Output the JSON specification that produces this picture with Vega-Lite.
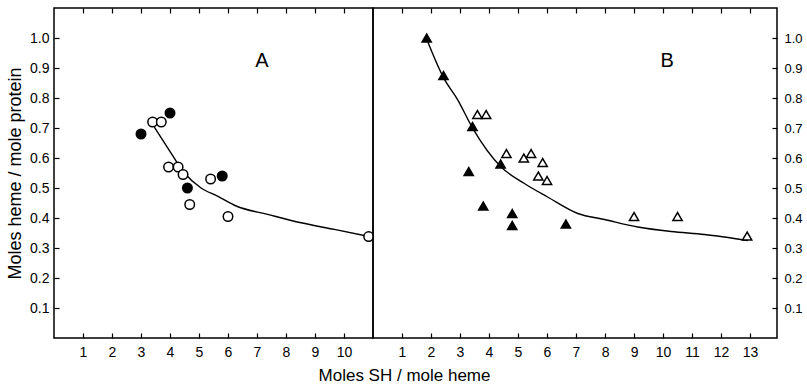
{
  "$schema": "https://vega.github.io/schema/vega-lite/v6.json",
  "background": "white",
  "padding": {"left": 5, "top": 6, "right": 5, "bottom": 0},
  "bounds": "flush",
  "spacing": 0,
  "config": {
    "view": {"stroke": "black", "strokeWidth": 1.5},
    "font": "Liberation Sans",
    "axis": {"grid": false, "domain": false, "tickColor": "black", "tickSize": -5, "tickWidth": 1.2, "labelColor": "black", "labelFont": "Liberation Sans", "labelFontSize": 14, "labelPadding": 10, "labelOverlap": false, "titleColor": "black", "titleFont": "Liberation Sans", "titleFontSize": 18, "titleFontWeight": "normal", "titlePadding": 5}
  },
  "datasets": {
    "pointsA": [
      {"x": 3.0, "y": 0.68, "type": "filled"},
      {"x": 4.0, "y": 0.75, "type": "filled"},
      {"x": 4.6, "y": 0.50, "type": "filled"},
      {"x": 5.8, "y": 0.54, "type": "filled"},
      {"x": 3.4, "y": 0.72, "type": "open"},
      {"x": 3.7, "y": 0.72, "type": "open"},
      {"x": 3.95, "y": 0.57, "type": "open"},
      {"x": 4.28, "y": 0.57, "type": "open"},
      {"x": 4.45, "y": 0.545, "type": "open"},
      {"x": 4.68, "y": 0.445, "type": "open"},
      {"x": 5.4, "y": 0.53, "type": "open"},
      {"x": 6.0, "y": 0.405, "type": "open"},
      {"x": 10.85, "y": 0.338, "type": "open"}
    ],
    "curveA": [
      {"x": 3.46, "y": 0.703},
      {"x": 3.92, "y": 0.634},
      {"x": 4.49, "y": 0.551},
      {"x": 5.07, "y": 0.50},
      {"x": 5.64, "y": 0.473},
      {"x": 6.28, "y": 0.44},
      {"x": 7.37, "y": 0.412},
      {"x": 8.52, "y": 0.384},
      {"x": 9.67, "y": 0.362},
      {"x": 10.82, "y": 0.339}
    ],
    "pointsB": [
      {"x": 1.85, "y": 1.0, "type": "filled"},
      {"x": 2.43, "y": 0.875, "type": "filled"},
      {"x": 3.43, "y": 0.705, "type": "filled"},
      {"x": 4.4, "y": 0.58, "type": "filled"},
      {"x": 3.3, "y": 0.555, "type": "filled"},
      {"x": 3.8, "y": 0.44, "type": "filled"},
      {"x": 4.8, "y": 0.415, "type": "filled"},
      {"x": 4.8, "y": 0.375, "type": "filled"},
      {"x": 6.65, "y": 0.38, "type": "filled"},
      {"x": 3.6, "y": 0.745, "type": "open"},
      {"x": 3.9, "y": 0.745, "type": "open"},
      {"x": 4.6, "y": 0.615, "type": "open"},
      {"x": 5.2, "y": 0.6, "type": "open"},
      {"x": 5.45, "y": 0.615, "type": "open"},
      {"x": 5.85, "y": 0.585, "type": "open"},
      {"x": 5.7, "y": 0.54, "type": "open"},
      {"x": 6.0, "y": 0.525, "type": "open"},
      {"x": 9.0, "y": 0.405, "type": "open"},
      {"x": 10.5, "y": 0.405, "type": "open"},
      {"x": 12.9, "y": 0.34, "type": "open"}
    ],
    "curveB": [
      {"x": 1.86, "y": 0.994},
      {"x": 2.44, "y": 0.866},
      {"x": 2.92, "y": 0.794},
      {"x": 3.44, "y": 0.699},
      {"x": 4.41, "y": 0.571},
      {"x": 5.22, "y": 0.515},
      {"x": 6.02, "y": 0.47},
      {"x": 7.06, "y": 0.415},
      {"x": 7.98, "y": 0.395},
      {"x": 9.13, "y": 0.37},
      {"x": 10.28, "y": 0.355},
      {"x": 11.43, "y": 0.345},
      {"x": 12.92, "y": 0.325}
    ],
    "labelA": [{"x": 7.17, "y": 0.923, "label": "A"}],
    "labelB": [{"x": 10.14, "y": 0.923, "label": "B"}]
  },
  "hconcat": [
    {
      "width": 319,
      "height": 330,
      "resolve": {"axis": {"x": "independent"}},
      "layer": [
        {
          "data": {"name": "curveA"},
          "mark": {"type": "line", "color": "black", "strokeWidth": 1.4, "interpolate": "monotone"},
          "encoding": {
            "x": {"field": "x", "type": "quantitative", "scale": {"domain": [0, 11], "nice": false, "zero": false},
                  "axis": {"values": [1,2,3,4,5,6,7,8,9,10], "format": "d", "labelPadding": 12, "title": "Moles SH / mole heme", "titleFontSize": 17, "titleAnchor": null, "titleAlign": "center", "titleBaseline": "alphabetic", "titleX": 350, "titleY": 42}},
            "y": {"field": "y", "type": "quantitative", "scale": {"domain": [0, 1.1], "nice": false},
                  "axis": {"values": [0.1,0.2,0.3,0.4,0.5,0.6,0.7,0.8,0.9,1.0], "tickCount": 30, "format": ".1f", "title": "Moles heme / mole protein"}}
          }
        },
        {
          "data": {"name": "pointsA"},
          "mark": {"type": "point", "shape": "circle", "size": 90, "filled": true, "stroke": "black", "strokeWidth": 1.5, "opacity": 1},
          "encoding": {
            "x": {"field": "x", "type": "quantitative", "axis": null},
            "y": {"field": "y", "type": "quantitative"},
            "fill": {"field": "type", "type": "nominal", "scale": {"domain": ["filled", "open"], "range": ["black", "white"]}, "legend": null}
          }
        },
        {
          "data": {"name": "labelA"},
          "mark": {"type": "text", "fontSize": 20, "font": "Liberation Sans", "color": "black"},
          "encoding": {
            "x": {"field": "x", "type": "quantitative", "axis": null},
            "y": {"field": "y", "type": "quantitative"},
            "text": {"field": "label"}
          }
        },
        {
          "data": {"name": "curveA"},
          "mark": {"type": "point", "opacity": 0},
          "encoding": {
            "x": {"field": "x", "type": "quantitative", "axis": {"orient": "top", "values": [1,2,3,4,5,6,7,8,9,10], "labels": false, "title": null}},
            "y": {"field": "y", "type": "quantitative"}
          }
        }
      ]
    },
    {
      "width": 404,
      "height": 330,
      "resolve": {"axis": {"x": "independent"}},
      "layer": [
        {
          "data": {"name": "curveB"},
          "mark": {"type": "line", "color": "black", "strokeWidth": 1.4, "interpolate": "monotone"},
          "encoding": {
            "x": {"field": "x", "type": "quantitative", "scale": {"domain": [0, 13.93], "nice": false, "zero": false},
                  "axis": {"values": [1,2,3,4,5,6,7,8,9,10,11,12,13], "format": "d", "labelPadding": 12, "title": null}},
            "y": {"field": "y", "type": "quantitative", "scale": {"domain": [0, 1.1], "nice": false},
                  "axis": {"orient": "right", "values": [0.1,0.2,0.3,0.4,0.5,0.6,0.7,0.8,0.9,1.0], "tickCount": 30, "format": ".1f", "title": null, "labelFontSize": 13, "labelPadding": 12}}
          }
        },
        {
          "data": {"name": "pointsB"},
          "mark": {"type": "point", "shape": "triangle-up", "size": 85, "filled": true, "stroke": "black", "strokeWidth": 1.5, "opacity": 1},
          "encoding": {
            "x": {"field": "x", "type": "quantitative", "axis": null},
            "y": {"field": "y", "type": "quantitative"},
            "fill": {"field": "type", "type": "nominal", "scale": {"domain": ["filled", "open"], "range": ["black", "white"]}, "legend": null}
          }
        },
        {
          "data": {"name": "labelB"},
          "mark": {"type": "text", "fontSize": 20, "font": "Liberation Sans", "color": "black"},
          "encoding": {
            "x": {"field": "x", "type": "quantitative", "axis": null},
            "y": {"field": "y", "type": "quantitative"},
            "text": {"field": "label"}
          }
        },
        {
          "data": {"name": "curveB"},
          "mark": {"type": "point", "opacity": 0},
          "encoding": {
            "x": {"field": "x", "type": "quantitative", "axis": {"orient": "top", "values": [1,2,3,4,5,6,7,8,9,10,11,12,13], "labels": false, "title": null}},
            "y": {"field": "y", "type": "quantitative"}
          }
        }
      ]
    }
  ]
}
